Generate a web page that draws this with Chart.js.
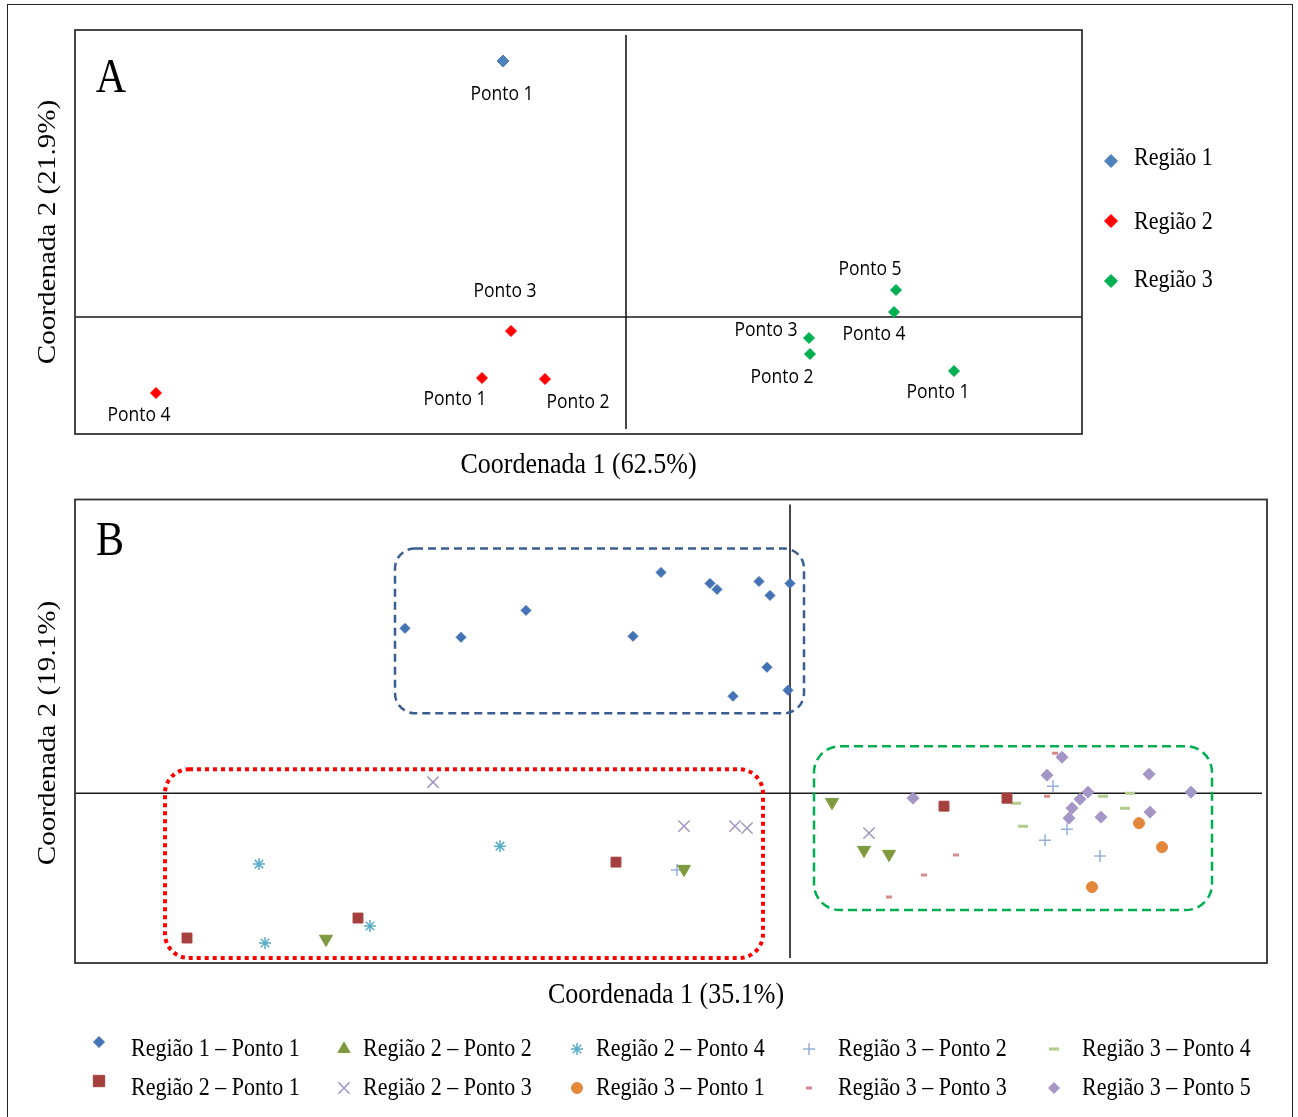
<!DOCTYPE html>
<html>
<head>
<meta charset="utf-8">
<script src="https://cdn.jsdelivr.net/npm/chart.js@4.4.1/dist/chart.umd.min.js"></script>
<style>
  body { margin: 0; background: #fff; width: 1298px; height: 1117px; overflow: hidden; position: relative; }
  #frame { position: absolute; left: 7px; top: 4px; width: 1284px; height: 1140px; border: 1px solid #222; }
  canvas { position: absolute; left: 0; }
  #chartA { top: 0; }
  #chartB { top: 490px; }
</style>
</head>
<body>
<div id="frame"></div>
<canvas id="chartA" width="1298" height="490"></canvas>
<canvas id="chartB" width="1298" height="627"></canvas>
<script>
// ---- Panel A data (Coordenada 1 / Coordenada 2) ----
const regionsA = ["Região 1", "Região 2", "Região 3"];
const regiao1 = [[-0.615, 1.28]];
const regiao1Labels = ["Ponto 1"];
const regiao2 = [[-0.72, -0.305], [-0.405, -0.31], [-0.575, -0.07], [-2.35, -0.38]];
const regiao2Labels = ["Ponto 1", "Ponto 2", "Ponto 3", "Ponto 4"];
const regiao3 = [[1.64, -0.27], [0.92, -0.185], [0.915, -0.105], [1.34, 0.025], [1.35, 0.135]];
const regiao3Labels = ["Ponto 1", "Ponto 2", "Ponto 3", "Ponto 4", "Ponto 5"];
const axisTitlesA = ["Coordenada 1 (62.5%)", "Coordenada 2 (21.9%)"];

// ---- Panel B data ----
const seriesB = [
  "Região 1 – Ponto 1", "Região 2 – Ponto 1", "Região 2 – Ponto 2", "Região 2 – Ponto 3",
  "Região 2 – Ponto 4", "Região 3 – Ponto 1", "Região 3 – Ponto 2", "Região 3 – Ponto 3",
  "Região 3 – Ponto 4", "Região 3 – Ponto 5"
];
const r1p1 = [[-1.925, 0.825], [-1.645, 0.78], [-1.32, 0.915], [-0.785, 0.785], [-0.645, 1.105],
  [-0.40, 1.05], [-0.365, 1.02], [-0.155, 1.06], [-0.10, 0.99], [0.0, 1.05], [-0.115, 0.63],
  [-0.285, 0.485], [-0.01, 0.515]];
const r2p1 = [[-3.015, -0.725], [-2.16, -0.625], [-0.87, -0.345], [0.77, -0.065], [1.085, -0.025]];
const r2p2 = [[-2.32, -0.73], [-0.53, -0.38], [0.21, -0.045], [0.37, -0.285], [0.495, -0.305]];
const r2p3 = [[-1.785, 0.055], [-0.53, -0.165], [-0.275, -0.165], [-0.215, -0.175], [0.395, -0.20]];
const r2p4 = [[-2.655, -0.355], [-2.625, -0.75], [-2.10, -0.665], [-1.45, -0.265]];
const r3p1 = [[1.745, -0.15], [1.86, -0.27], [1.51, -0.47]];
const r3p2 = [[-0.565, -0.385], [1.315, 0.035], [1.385, -0.18], [1.275, -0.235], [1.55, -0.315]];
const r3p3 = [[0.495, -0.52], [0.67, -0.41], [0.83, -0.31], [1.285, -0.015], [1.325, 0.20]];
const r3p4 = [[1.13, -0.05], [1.165, -0.165], [1.565, -0.015], [1.675, -0.075], [1.70, 0.0]];
const r3p5 = [[0.615, -0.025], [1.285, 0.09], [1.36, 0.18], [1.49, 0.005], [1.45, -0.03],
  [1.41, -0.075], [1.395, -0.125], [1.555, -0.12], [1.795, 0.095], [1.80, -0.095], [2.005, 0.005]];
const axisTitlesB = ["Coordenada 1 (35.1%)", "Coordenada 2 (19.1%)"];

// ---- styles ----
const colorsA = ["#4F81BD", "#FF0000", "#00B050"];
const labelOffsetsA = [
  [[-1, 34]],
  [[-27, 22], [33, 24], [-6, -39], [-17, 23]],
  [[-16, 22], [-28, 24], [-43, -7], [-20, 23], [-26, -20]]
];
const legendRowsA = [[161, 159], [221, 223], [281, 281]];
const stylesB = [
  { color: "#4473B5", pointStyle: "rectRot", radius: 5, borderWidth: 1 },
  { color: "#A5403E", pointStyle: "rect", radius: 7, borderWidth: 1 },
  { color: "#7E9A3E", pointStyle: "triangle", radius: 7.5, borderWidth: 1, rotation: 180 },
  { color: "#A395C2", pointStyle: "crossRot", radius: 8, borderWidth: 1.5 },
  { color: "#5BAFC8", pointStyle: "star", radius: 6, borderWidth: 1.5 },
  { color: "#E3873A", pointStyle: "circle", radius: 5.5, borderWidth: 1 },
  { color: "#95B0DA", pointStyle: "cross", radius: 6, borderWidth: 1.5 },
  { color: "#D98A88", pointStyle: "line", radius: 3, borderWidth: 3 },
  { color: "#B3CB8C", pointStyle: "line", radius: 5, borderWidth: 3 },
  { color: "#A596C8", pointStyle: "rectRot", radius: 6, borderWidth: 1 }
];
// group outlines in data units: [xMin, xMax, yMin, yMax]
const boxesB = [
  { ext: [-1.975, 0.07, 0.40, 1.225], color: "#3B5E91", dash: [8, 5], width: 2.5, radius: 20 },
  { ext: [-3.125, -0.135, -0.825, 0.12], color: "#FF0000", dash: [4, 4], width: 4, radius: 24 },
  { ext: [0.12, 2.11, -0.585, 0.235], color: "#00B050", dash: [9, 5], width: 2.5, radius: 26 }
];

const toPts = (arr) => arr.map(([x, y]) => ({ x, y }));

function drawText(ctx, str, x, y, font, align, sx, sy, rot) {
  ctx.save();
  ctx.translate(x, y);
  if (rot) ctx.rotate(rot);
  ctx.scale(sx || 1, sy || 1);
  ctx.font = font;
  ctx.textAlign = align || "center";
  ctx.textBaseline = "middle";
  ctx.fillStyle = "#000";
  ctx.fillText(str, 0, 0);
  ctx.restore();
}

function marker(ctx, style, x, y, color) {
  ctx.save();
  ctx.fillStyle = color;
  ctx.strokeStyle = color;
  ctx.lineWidth = style.borderWidth;
  Chart.helpers.drawPoint(ctx, style, x, y);
  ctx.restore();
}

// zero lines + frame
function axesPlugin(hInset) {
  return {
    id: "axesCross",
    beforeDatasetsDraw(chart) {
      const { ctx, chartArea: a } = chart;
      const x0 = chart.scales.x.getPixelForValue(0);
      const y0 = chart.scales.y.getPixelForValue(0);
      ctx.save();
      ctx.strokeStyle = "#1a1a1a";
      ctx.lineWidth = 1.6;
      ctx.beginPath();
      ctx.moveTo(a.left, y0);
      ctx.lineTo(a.right - hInset, y0);
      ctx.moveTo(x0, a.top + 5);
      ctx.lineTo(x0, a.bottom - 5);
      ctx.stroke();
      ctx.restore();
    },
    afterDraw(chart) {
      const { ctx, chartArea: a } = chart;
      ctx.save();
      ctx.strokeStyle = "#333";
      ctx.lineWidth = 1.8;
      ctx.strokeRect(a.left, a.top, a.right - a.left, a.bottom - a.top);
      ctx.restore();
    }
  };
}

const serif = "'Liberation Serif', 'Times New Roman', serif";
const sans = "'Open Sans', 'Noto Sans', sans-serif";

const baseOptions = (xr, yr, pad) => ({
  responsive: false,
  animation: false,
  devicePixelRatio: 1,
  layout: { padding: pad },
  plugins: { legend: { display: false }, tooltip: { enabled: false } },
  scales: {
    x: { type: "linear", min: xr[0], max: xr[1], display: false },
    y: { type: "linear", min: yr[0], max: yr[1], display: false }
  }
});

// ---------------- Chart A ----------------
const setsA = [regiao1, regiao2, regiao3];
const labelsA = [regiao1Labels, regiao2Labels, regiao3Labels];

const decorA = {
  id: "decorA",
  afterDraw(chart) {
    const { ctx, chartArea: a } = chart;
    const xs = chart.scales.x, ys = chart.scales.y;
    // point labels
    setsA.forEach((set, i) => {
      set.forEach(([x, y], j) => {
        const [dx, dy] = labelOffsetsA[i][j];
        drawText(ctx, labelsA[i][j], xs.getPixelForValue(x) + dx, ys.getPixelForValue(y) + dy,
          "17.5px " + sans, "center", 1, 1.1);
      });
    });
    drawText(ctx, "A", a.left + 36, a.top + 49, "42px " + serif, "center", 1, 1.18);
    drawText(ctx, axisTitlesA[0], (a.left + a.right) / 2, 465, "26px " + serif, "center", 1, 1.12);
    drawText(ctx, axisTitlesA[1], 48, (a.top + a.bottom) / 2, "26px " + serif, "center", 1.12, 1, -Math.PI / 2);
    // legend
    regionsA.forEach((name, i) => {
      const [my, ty] = legendRowsA[i];
      marker(ctx, { pointStyle: "rectRot", radius: 6.5, borderWidth: 1 }, 1111, my, colorsA[i]);
      drawText(ctx, name, 1134, ty, "22px " + serif, "left", 1, 1.1);
    });
  }
};

new Chart(document.getElementById("chartA"), {
  type: "scatter",
  data: {
    datasets: setsA.map((set, i) => ({
      label: regionsA[i],
      data: toPts(set),
      pointStyle: "rectRot",
      pointRadius: i === 0 ? 6 : 5.5,
      backgroundColor: colorsA[i],
      borderColor: colorsA[i],
      borderWidth: 1
    }))
  },
  options: baseOptions([-2.755, 2.28], [-0.585, 1.435], { left: 75, top: 30, right: 216, bottom: 56 }),
  plugins: [axesPlugin(0), decorA]
});

// ---------------- Chart B ----------------
const setsB = [r1p1, r2p1, r2p2, r2p3, r2p4, r3p1, r3p2, r3p3, r3p4, r3p5];
// legend grid: column marker x, text x; rows
const legendOrderB = [[0, 2, 4, 6, 8], [1, 3, 5, 7, 9]];
const legendColsB = [[99, 131], [344, 363], [577, 596], [809, 838], [1054, 1082]];

const decorB = {
  id: "decorB",
  afterDatasetsDraw(chart) {
    const { ctx } = chart;
    const xs = chart.scales.x, ys = chart.scales.y;
    boxesB.forEach((b) => {
      const x1 = xs.getPixelForValue(b.ext[0]), x2 = xs.getPixelForValue(b.ext[1]);
      const y1 = ys.getPixelForValue(b.ext[3]), y2 = ys.getPixelForValue(b.ext[2]);
      ctx.save();
      ctx.strokeStyle = b.color;
      ctx.lineWidth = b.width;
      ctx.setLineDash(b.dash);
      ctx.beginPath();
      ctx.roundRect(x1, y1, x2 - x1, y2 - y1, b.radius);
      ctx.stroke();
      ctx.restore();
    });
  },
  afterDraw(chart) {
    const { ctx, chartArea: a } = chart;
    drawText(ctx, "B", a.left + 35, a.top + 42, "42px " + serif, "center", 1, 1.18);
    drawText(ctx, axisTitlesB[0], 666, 505, "26px " + serif, "center", 1, 1.12);
    drawText(ctx, axisTitlesB[1], 48, 243, "26px " + serif, "center", 1.12, 1, -Math.PI / 2);
    legendOrderB.forEach((row, r) => {
      const ty = 560 + r * 39;
      row.forEach((si, c) => {
        const [mx, tx] = legendColsB[c];
        const st = Object.assign({}, stylesB[si], { rotation: 0 });
        if (st.pointStyle === "rectRot") st.radius = 5.5;
        if (st.pointStyle === "rect") st.radius = 8;
        if (st.pointStyle === "triangle") st.radius = 7;
        const my = c === 0 ? ty - 8 : ty - 1;
        marker(ctx, st, mx, my, stylesB[si].color);
        drawText(ctx, seriesB[si], tx, ty, "22px " + serif, "left", 1, 1.1);
      });
    });
  }
};

new Chart(document.getElementById("chartB"), {
  type: "scatter",
  data: {
    datasets: setsB.map((set, i) => ({
      label: seriesB[i],
      data: toPts(set),
      pointStyle: stylesB[i].pointStyle,
      pointRadius: stylesB[i].radius,
      rotation: stylesB[i].rotation || 0,
      backgroundColor: stylesB[i].color,
      borderColor: stylesB[i].color,
      borderWidth: stylesB[i].borderWidth
    }))
  },
  options: baseOptions([-3.575, 2.385], [-0.85, 1.47], { left: 75, top: 9, right: 31, bottom: 154 }),
  plugins: [axesPlugin(5), decorB]
});
</script>
</body>
</html>
